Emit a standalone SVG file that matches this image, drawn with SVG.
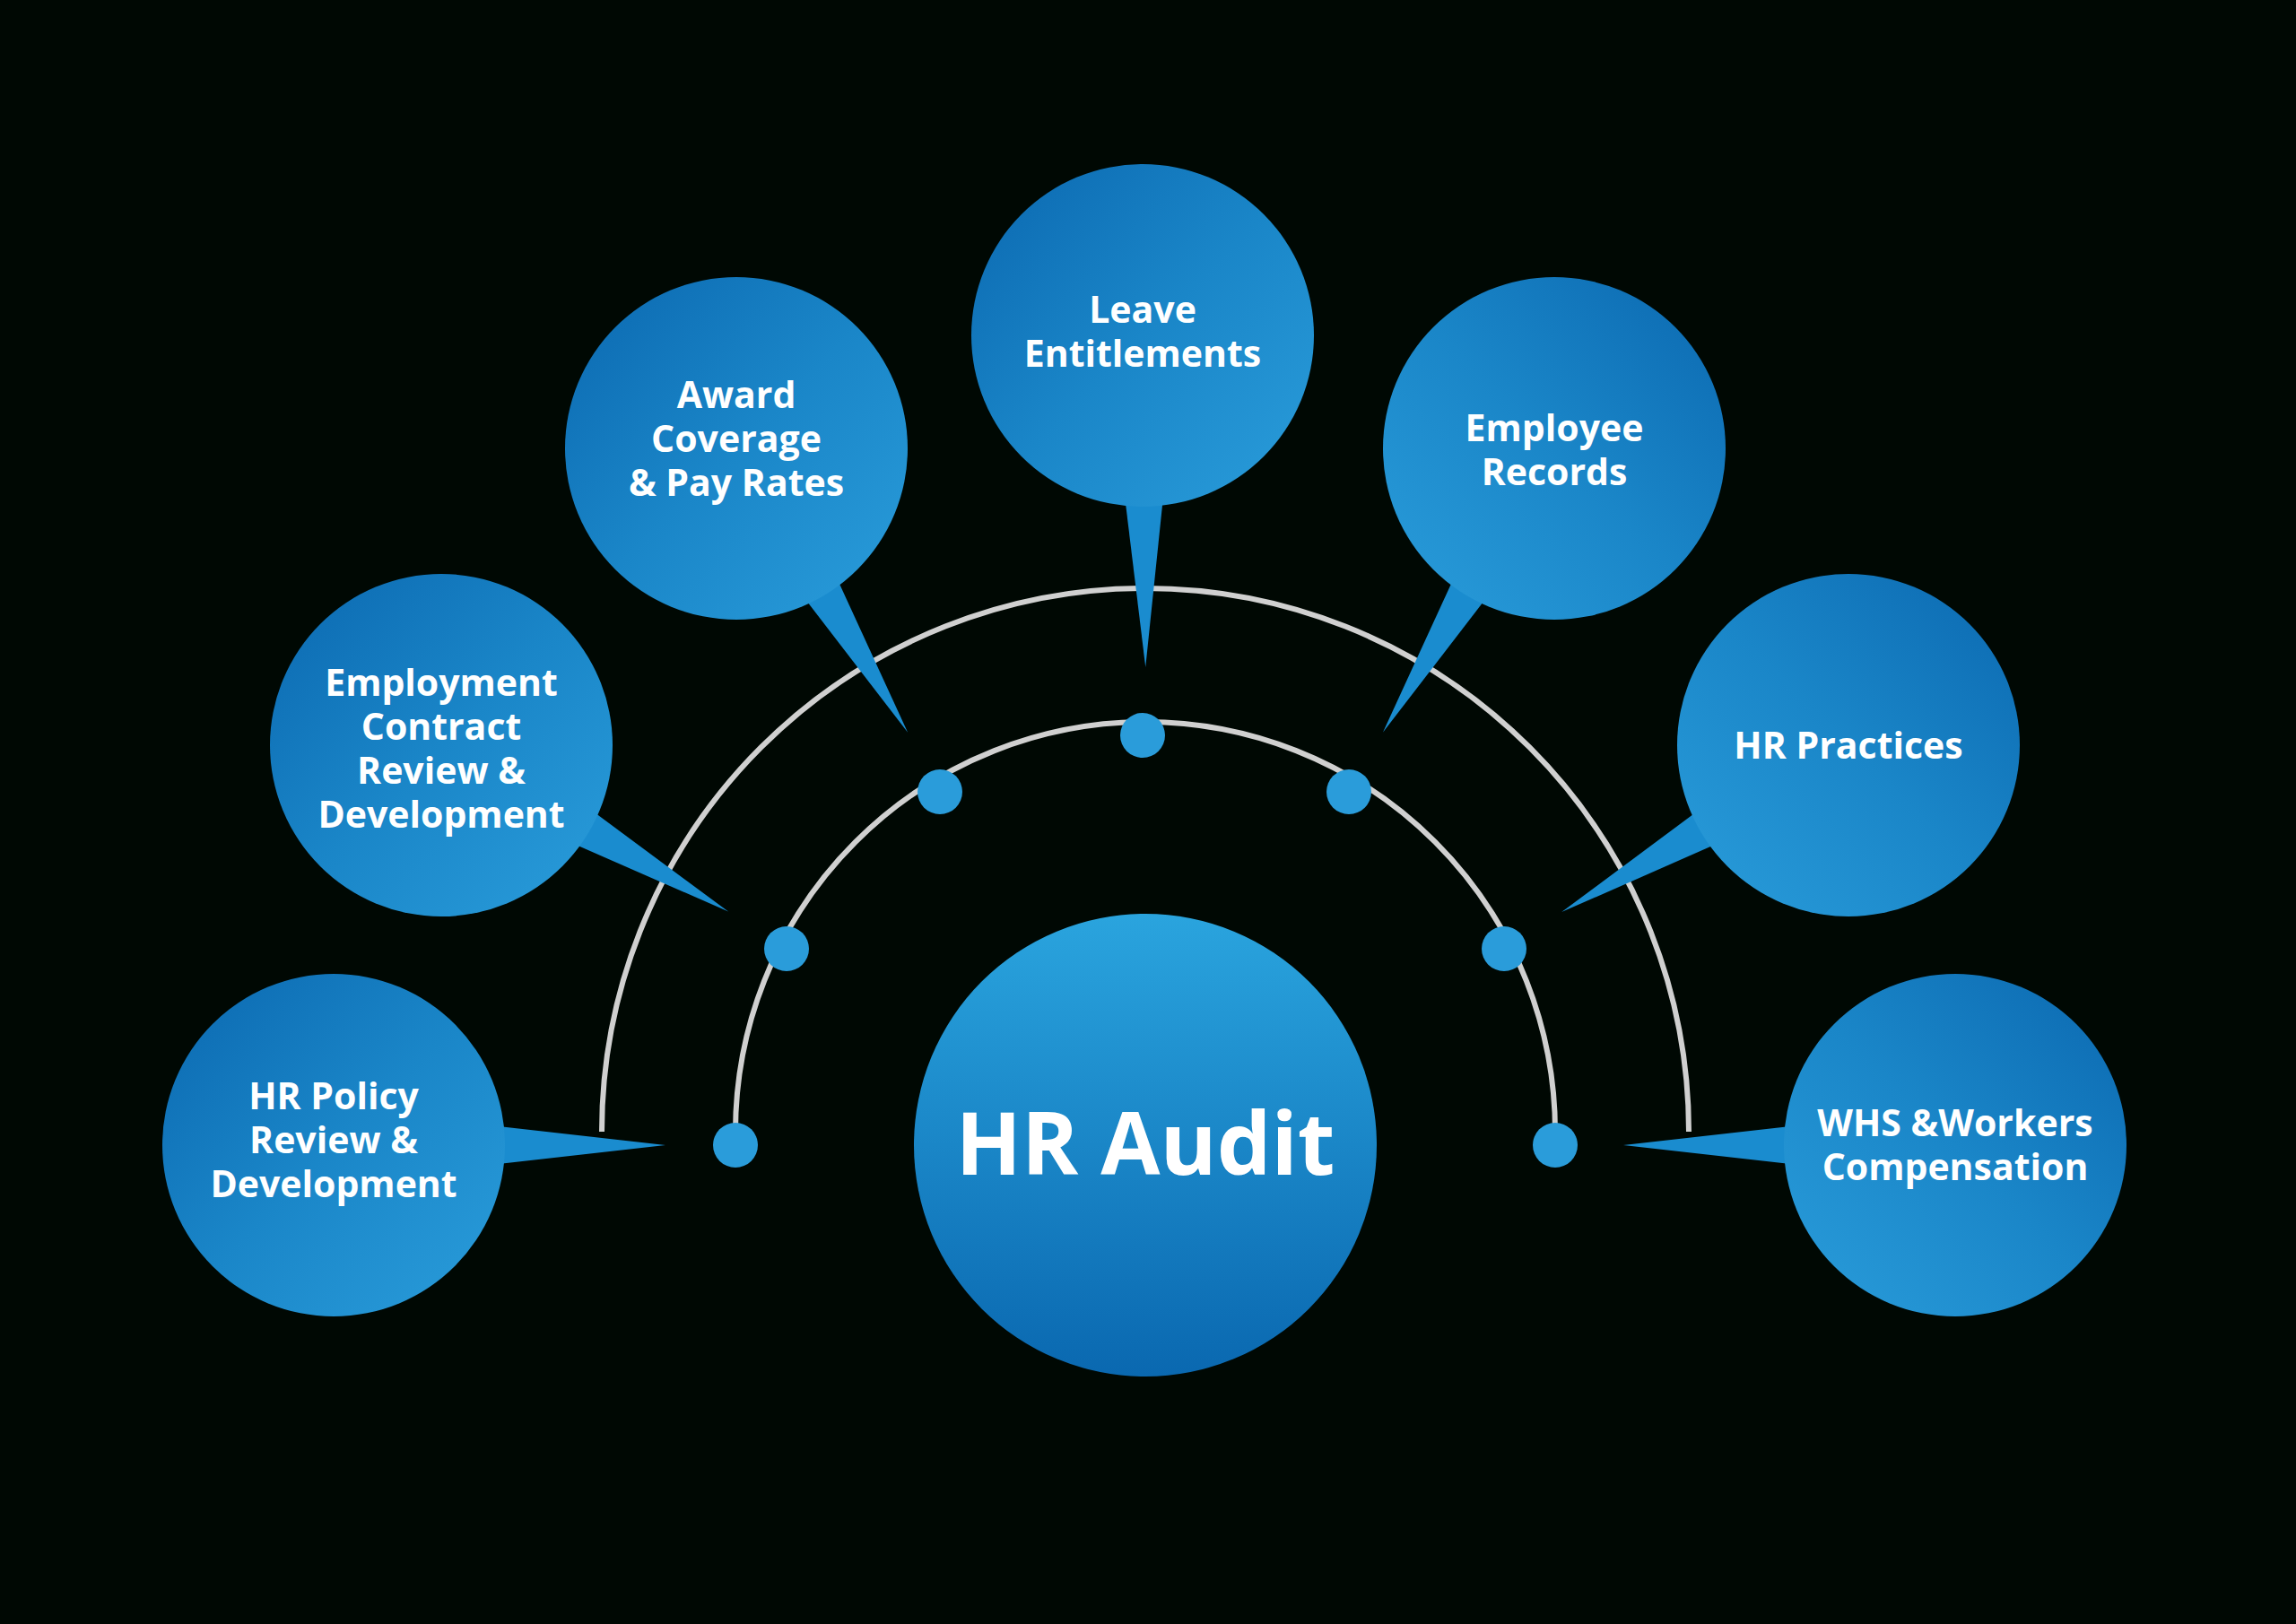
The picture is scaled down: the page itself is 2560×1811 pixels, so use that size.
<svg xmlns="http://www.w3.org/2000/svg" width="2560" height="1811" viewBox="0 0 2560 1811">
<defs>
<linearGradient id="bub" x1="0" y1="0" x2="1" y2="1"><stop offset="0" stop-color="#0b68b0"/><stop offset="0.5" stop-color="#1a86c8"/><stop offset="1" stop-color="#2a9ddb"/></linearGradient>
<linearGradient id="bubR" x1="1" y1="0" x2="0" y2="1"><stop offset="0" stop-color="#0b68b0"/><stop offset="0.5" stop-color="#1a86c8"/><stop offset="1" stop-color="#2a9ddb"/></linearGradient>
<linearGradient id="ctr" x1="0" y1="0" x2="0" y2="1"><stop offset="0" stop-color="#2aa4de"/><stop offset="1" stop-color="#0a68b0"/></linearGradient>
<style>
.t{font-family:"Open Sans","Liberation Sans",sans-serif;font-weight:700;font-size:41px;fill:#fff;text-anchor:middle}
.arc{fill:none;stroke:#d0d0d0;stroke-width:6}
.dot{fill:#2a9cda}
</style>
</defs>
<rect width="2560" height="1811" fill="#000803"/>
<g id="connectors">
<path class="arc" d="M671 1262 A606 606 0 0 1 1883 1262"/>
<path class="arc" d="M820 1262 A457 457 0 0 1 1734 1262"/>
<circle class="dot" cx="820" cy="1277" r="25"/>
<circle class="dot" cx="877" cy="1058" r="25"/>
<circle class="dot" cx="1048" cy="883" r="25"/>
<circle class="dot" cx="1274" cy="820" r="25"/>
<circle class="dot" cx="1504" cy="883" r="25"/>
<circle class="dot" cx="1677" cy="1058" r="25"/>
<circle class="dot" cx="1734" cy="1277" r="25"/>
</g>
<g id="hr-policy" transform="translate(372,1277)">
<polygon points="175,-22 175,22 370,0" fill="#1a8ccf"/>
<circle r="191" fill="url(#bub)"/>
<text class="t" y="-40">HR Policy</text><text class="t" y="9">Review &amp;</text><text class="t" y="58">Development</text>
</g>
<g id="employment" transform="translate(492,831)">
<polygon points="175,-22 175,22 370,0" fill="#1a8ccf" transform="rotate(30.1)"/>
<circle r="191" fill="url(#bub)"/>
<text class="t" y="-55">Employment</text><text class="t" y="-6">Contract</text><text class="t" y="43">Review &amp;</text><text class="t" y="92">Development</text>
</g>
<g id="award" transform="translate(821,500)">
<polygon points="175,-22 175,22 370,0" fill="#1a8ccf" transform="rotate(58.9)"/>
<circle r="191" fill="url(#bub)"/>
<text class="t" y="-45">Award</text><text class="t" y="4">Coverage</text><text class="t" y="53">&amp; Pay Rates</text>
</g>
<g id="leave" transform="translate(1274,374)">
<polygon points="175,-22 175,22 370,0" fill="#1a8ccf" transform="rotate(89.5)"/>
<circle r="191" fill="url(#bub)"/>
<text class="t" y="-14">Leave</text><text class="t" y="35">Entitlements</text>
</g>
<g id="employee" transform="translate(1733,500)">
<polygon points="175,-22 175,22 370,0" fill="#1a8ccf" transform="rotate(121.1)"/>
<circle r="191" fill="url(#bubR)"/>
<text class="t" y="-8">Employee</text><text class="t" y="41">Records</text>
</g>
<g id="hr-practices" transform="translate(2061,831)">
<polygon points="175,-22 175,22 370,0" fill="#1a8ccf" transform="rotate(149.8)"/>
<circle r="191" fill="url(#bubR)"/>
<text class="t" y="15">HR Practices</text>
</g>
<g id="whs" transform="translate(2180,1277)">
<polygon points="175,-22 175,22 370,0" fill="#1a8ccf" transform="rotate(180)"/>
<circle r="191" fill="url(#bubR)"/>
<text class="t" y="-10">WHS &amp;Workers</text><text class="t" y="39">Compensation</text>
</g>
<g id="hr-audit">
<circle cx="1277" cy="1277" r="258" fill="url(#ctr)"/>
<text class="t" x="1277" y="1310" style="font-size:96px">HR Audit</text>
</g>
</svg>
